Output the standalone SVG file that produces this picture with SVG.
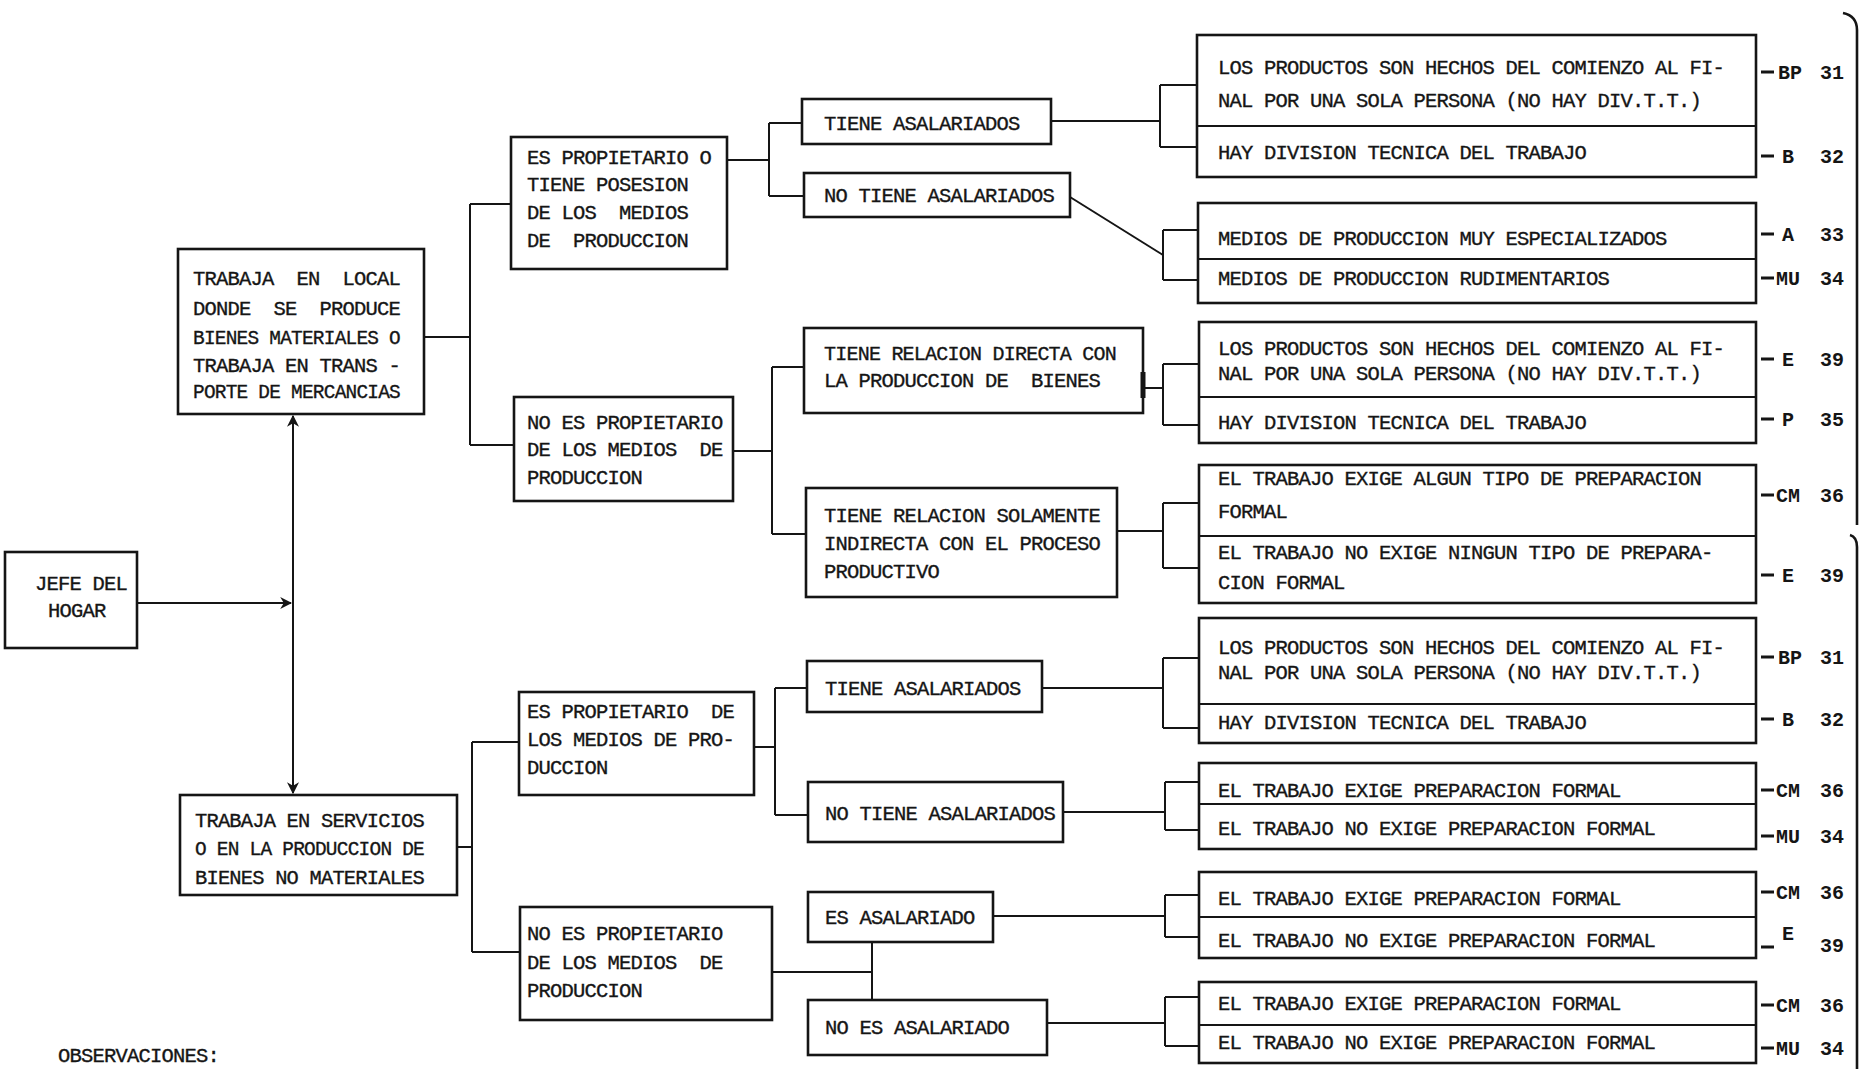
<svg xmlns="http://www.w3.org/2000/svg" width="1863" height="1069" viewBox="0 0 1863 1069">
<defs>
<style>
.box{fill:none;stroke:#151515;stroke-width:2.6}
.div{fill:none;stroke:#151515;stroke-width:2}
.ln{fill:none;stroke:#151515;stroke-width:2}
.t{font-family:"Liberation Mono","DejaVu Sans Mono",monospace;font-size:20.5px;letter-spacing:-0.8px;fill:#151515;stroke:#151515;stroke-width:0.35;white-space:pre}
.c{font-family:"Liberation Mono","DejaVu Sans Mono",monospace;font-size:20px;font-weight:bold;fill:#151515}
.dash{stroke:#151515;stroke-width:3}
</style>
<marker id="ah" viewBox="0 0 10 10" refX="9" refY="5" markerWidth="12" markerHeight="12" markerUnits="userSpaceOnUse" orient="auto">
<path d="M0,0 L10,5 L0,10 L3,5 Z" fill="#151515"/>
</marker>
</defs>
<rect width="1863" height="1069" fill="#ffffff"/>

<g id="connectors">
<path class="ln" d="M137,603 H291" marker-end="url(#ah)"/>
<path class="ln" d="M293,603 V416" marker-end="url(#ah)"/>
<path class="ln" d="M293,603 V793" marker-end="url(#ah)"/>
<path class="ln" d="M424,337 H470 M470,204 V445 M470,204 H511 M470,445 H514"/>
<path class="ln" d="M727,160 H769 M769,123 V196 M769,123 H802 M769,196 H804"/>
<path class="ln" d="M733,451 H772 M772,367 V534 M772,367 H804 M772,534 H806"/>
<path class="ln" d="M457,847 H472 M472,742 V952 M472,742 H519 M472,952 H520"/>
<path class="ln" d="M754,747 H775 M775,688 V815 M775,688 H807 M775,815 H808"/>
<path class="ln" d="M772,972 H872 M872,942 V1000"/>
<path class="ln" d="M1051,121 H1160"/>
<path class="ln" d="M1070,197 L1163,255"/>
<path class="ln" d="M1143,388 H1163"/>
<path d="M1143,372 V398" stroke="#151515" stroke-width="5"/>
<path class="ln" d="M1117,531 H1163"/>
<path class="ln" d="M1042,688 H1163"/>
<path class="ln" d="M1063,812 H1165"/>
<path class="ln" d="M993,916 H1165"/>
<path class="ln" d="M1047,1023 H1165"/>
<path class="ln" d="M1160,85 V147 M1160,85 H1197 M1160,147 H1197"/>
<path class="ln" d="M1163,230 V280 M1163,230 H1198 M1163,280 H1198"/>
<path class="ln" d="M1163,364 V425 M1163,364 H1199 M1163,425 H1199"/>
<path class="ln" d="M1163,503 V568 M1163,503 H1199 M1163,568 H1199"/>
<path class="ln" d="M1163,658 V728 M1163,658 H1199 M1163,728 H1199"/>
<path class="ln" d="M1165,782 V830 M1165,782 H1199 M1165,830 H1199"/>
<path class="ln" d="M1165,895 V937 M1165,895 H1199 M1165,937 H1199"/>
<path class="ln" d="M1165,997 V1046 M1165,997 H1199 M1165,1046 H1199"/>
<path d="M1843,13 Q1857,16 1857,30 V525" fill="none" stroke="#151515" stroke-width="2.6"/>
<path d="M1850,535 Q1857,537 1857,547 V1069" fill="none" stroke="#151515" stroke-width="2.6"/>
</g>

<g id="jefe">
<rect class="box" x="5" y="552" width="132" height="96"/>
<text class="t" x="35" y="590">JEFE DEL</text>
<text class="t" x="48" y="617">HOGAR</text>
</g>

<g id="local">
<rect class="box" x="178" y="249" width="246" height="165"/>
<text class="t" x="193" y="285" textLength="207" lengthAdjust="spacingAndGlyphs">TRABAJA  EN  LOCAL</text>
<text class="t" x="193" y="315" textLength="207" lengthAdjust="spacingAndGlyphs">DONDE  SE  PRODUCE</text>
<text class="t" x="193" y="344" textLength="207" lengthAdjust="spacingAndGlyphs">BIENES MATERIALES O</text>
<text class="t" x="193" y="372" textLength="207" lengthAdjust="spacingAndGlyphs">TRABAJA EN TRANS -</text>
<text class="t" x="193" y="398" textLength="207" lengthAdjust="spacingAndGlyphs">PORTE DE MERCANCIAS</text>
</g>

<g id="servicios">
<rect class="box" x="180" y="795" width="277" height="100"/>
<text class="t" x="195" y="827" textLength="229" lengthAdjust="spacingAndGlyphs">TRABAJA EN SERVICIOS</text>
<text class="t" x="195" y="855" textLength="229" lengthAdjust="spacingAndGlyphs">O EN LA PRODUCCION DE</text>
<text class="t" x="195" y="884" textLength="229" lengthAdjust="spacingAndGlyphs">BIENES NO MATERIALES</text>
</g>

<g id="propietario1">
<rect class="box" x="511" y="137" width="216" height="132"/>
<text class="t" x="527" y="164">ES PROPIETARIO O</text>
<text class="t" x="527" y="191">TIENE POSESION</text>
<text class="t" x="527" y="219">DE LOS  MEDIOS</text>
<text class="t" x="527" y="247">DE  PRODUCCION</text>
</g>

<g id="noprop1">
<rect class="box" x="514" y="397" width="219" height="104"/>
<text class="t" x="527" y="429">NO ES PROPIETARIO</text>
<text class="t" x="527" y="456">DE LOS MEDIOS  DE</text>
<text class="t" x="527" y="484">PRODUCCION</text>
</g>

<g id="propietario2">
<rect class="box" x="519" y="692" width="235" height="103"/>
<text class="t" x="527" y="718">ES PROPIETARIO  DE</text>
<text class="t" x="527" y="746">LOS MEDIOS DE PRO-</text>
<text class="t" x="527" y="774">DUCCION</text>
</g>

<g id="noprop2">
<rect class="box" x="520" y="907" width="252" height="113"/>
<text class="t" x="527" y="940">NO ES PROPIETARIO</text>
<text class="t" x="527" y="969">DE LOS MEDIOS  DE</text>
<text class="t" x="527" y="997">PRODUCCION</text>
</g>

<g id="tiene1">
<rect class="box" x="802" y="99" width="249" height="45"/>
<text class="t" x="824" y="130">TIENE ASALARIADOS</text>
</g>
<g id="notiene1">
<rect class="box" x="804" y="173" width="266" height="44"/>
<text class="t" x="824" y="202">NO TIENE ASALARIADOS</text>
</g>
<g id="directa">
<rect class="box" x="804" y="328" width="339" height="85"/>
<text class="t" x="824" y="360" textLength="292" lengthAdjust="spacingAndGlyphs">TIENE RELACION DIRECTA CON</text>
<text class="t" x="824" y="387">LA PRODUCCION DE  BIENES</text>
</g>
<g id="indirecta">
<rect class="box" x="806" y="488" width="311" height="109"/>
<text class="t" x="824" y="522">TIENE RELACION SOLAMENTE</text>
<text class="t" x="824" y="550">INDIRECTA CON EL PROCESO</text>
<text class="t" x="824" y="578">PRODUCTIVO</text>
</g>
<g id="tiene2">
<rect class="box" x="807" y="661" width="235" height="51"/>
<text class="t" x="825" y="695">TIENE ASALARIADOS</text>
</g>
<g id="notiene2">
<rect class="box" x="808" y="782" width="255" height="60"/>
<text class="t" x="825" y="820">NO TIENE ASALARIADOS</text>
</g>
<g id="esasal">
<rect class="box" x="808" y="892" width="185" height="50"/>
<text class="t" x="825" y="924">ES ASALARIADO</text>
</g>
<g id="noesasal">
<rect class="box" x="808" y="1000" width="239" height="55"/>
<text class="t" x="825" y="1034">NO ES ASALARIADO</text>
</g>

<g id="r1">
<rect class="box" x="1197" y="35" width="559" height="142"/>
<line class="div" x1="1197" y1="126" x2="1756" y2="126"/>
<text class="t" x="1218" y="74">LOS PRODUCTOS SON HECHOS DEL COMIENZO AL FI-</text>
<text class="t" x="1218" y="107">NAL POR UNA SOLA PERSONA (NO HAY DIV.T.T.)</text>
<text class="t" x="1218" y="159">HAY DIVISION TECNICA DEL TRABAJO</text>
</g>
<g id="r2">
<rect class="box" x="1198" y="203" width="558" height="100"/>
<line class="div" x1="1198" y1="259" x2="1756" y2="259"/>
<text class="t" x="1218" y="245">MEDIOS DE PRODUCCION MUY ESPECIALIZADOS</text>
<text class="t" x="1218" y="285">MEDIOS DE PRODUCCION RUDIMENTARIOS</text>
</g>
<g id="r3">
<rect class="box" x="1199" y="322" width="557" height="121"/>
<line class="div" x1="1199" y1="397" x2="1756" y2="397"/>
<text class="t" x="1218" y="355">LOS PRODUCTOS SON HECHOS DEL COMIENZO AL FI-</text>
<text class="t" x="1218" y="380">NAL POR UNA SOLA PERSONA (NO HAY DIV.T.T.)</text>
<text class="t" x="1218" y="429">HAY DIVISION TECNICA DEL TRABAJO</text>
</g>
<g id="r4">
<rect class="box" x="1199" y="465" width="557" height="138"/>
<line class="div" x1="1199" y1="536" x2="1756" y2="536"/>
<text class="t" x="1218" y="485">EL TRABAJO EXIGE ALGUN TIPO DE PREPARACION</text>
<text class="t" x="1218" y="518">FORMAL</text>
<text class="t" x="1218" y="559">EL TRABAJO NO EXIGE NINGUN TIPO DE PREPARA-</text>
<text class="t" x="1218" y="589">CION FORMAL</text>
</g>
<g id="r5">
<rect class="box" x="1199" y="618" width="557" height="125"/>
<line class="div" x1="1199" y1="704" x2="1756" y2="704"/>
<text class="t" x="1218" y="654">LOS PRODUCTOS SON HECHOS DEL COMIENZO AL FI-</text>
<text class="t" x="1218" y="679">NAL POR UNA SOLA PERSONA (NO HAY DIV.T.T.)</text>
<text class="t" x="1218" y="729">HAY DIVISION TECNICA DEL TRABAJO</text>
</g>
<g id="r6">
<rect class="box" x="1199" y="763" width="557" height="86"/>
<line class="div" x1="1199" y1="804" x2="1756" y2="804"/>
<text class="t" x="1218" y="797">EL TRABAJO EXIGE PREPARACION FORMAL</text>
<text class="t" x="1218" y="835">EL TRABAJO NO EXIGE PREPARACION FORMAL</text>
</g>
<g id="r7">
<rect class="box" x="1199" y="872" width="557" height="86"/>
<line class="div" x1="1199" y1="917" x2="1756" y2="917"/>
<text class="t" x="1218" y="905">EL TRABAJO EXIGE PREPARACION FORMAL</text>
<text class="t" x="1218" y="947">EL TRABAJO NO EXIGE PREPARACION FORMAL</text>
</g>
<g id="r8">
<rect class="box" x="1199" y="982" width="557" height="81"/>
<line class="div" x1="1199" y1="1025" x2="1756" y2="1025"/>
<text class="t" x="1218" y="1010">EL TRABAJO EXIGE PREPARACION FORMAL</text>
<text class="t" x="1218" y="1049">EL TRABAJO NO EXIGE PREPARACION FORMAL</text>
</g>

<g id="codes">
<path class="dash" d="M1761,72 H1774 M1761,156 H1774 M1761,234 H1774 M1761,278 H1774 M1761,359 H1774 M1761,419 H1774 M1761,495 H1774 M1761,575 H1774 M1761,657 H1774 M1761,719 H1774 M1761,790 H1774 M1761,836 H1774 M1761,892 H1774 M1761,947 H1774 M1761,1005 H1774 M1761,1048 H1774"/>
<text class="c" x="1778" y="79">BP</text><text class="c" x="1820" y="79">31</text>
<text class="c" x="1782" y="163">B</text><text class="c" x="1820" y="163">32</text>
<text class="c" x="1782" y="241">A</text><text class="c" x="1820" y="241">33</text>
<text class="c" x="1776" y="285">MU</text><text class="c" x="1820" y="285">34</text>
<text class="c" x="1782" y="366">E</text><text class="c" x="1820" y="366">39</text>
<text class="c" x="1782" y="426">P</text><text class="c" x="1820" y="426">35</text>
<text class="c" x="1776" y="502">CM</text><text class="c" x="1820" y="502">36</text>
<text class="c" x="1782" y="582">E</text><text class="c" x="1820" y="582">39</text>
<text class="c" x="1778" y="664">BP</text><text class="c" x="1820" y="664">31</text>
<text class="c" x="1782" y="726">B</text><text class="c" x="1820" y="726">32</text>
<text class="c" x="1776" y="797">CM</text><text class="c" x="1820" y="797">36</text>
<text class="c" x="1776" y="843">MU</text><text class="c" x="1820" y="843">34</text>
<text class="c" x="1776" y="899">CM</text><text class="c" x="1820" y="899">36</text>
<text class="c" x="1782" y="940">E</text><text class="c" x="1820" y="952">39</text>
<text class="c" x="1776" y="1012">CM</text><text class="c" x="1820" y="1012">36</text>
<text class="c" x="1776" y="1055">MU</text><text class="c" x="1820" y="1055">34</text>
</g>

<text class="t" x="58" y="1062">OBSERVACIONES:</text>
</svg>
